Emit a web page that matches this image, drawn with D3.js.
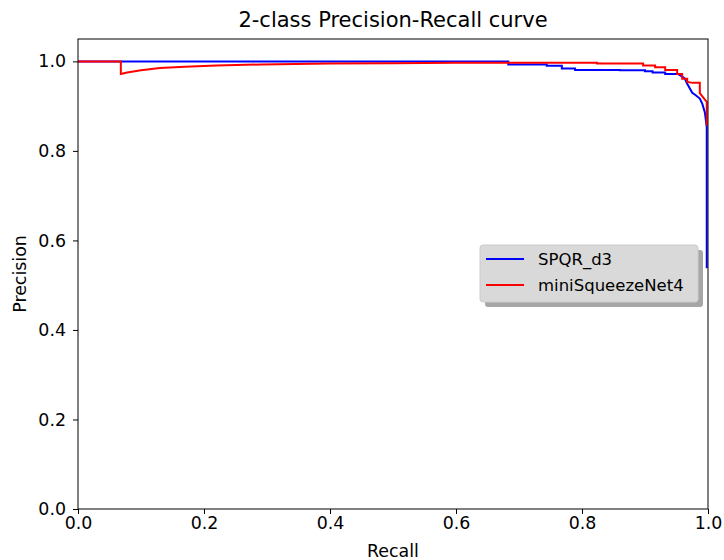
<!DOCTYPE html>
<html>
<head>
<meta charset="utf-8">
<script src="https://cdn.jsdelivr.net/npm/d3@7"></script>
<style>
  body { margin: 0; background: #fff; }
  text { font-family: "DejaVu Sans", sans-serif; }
</style>
</head>
<body>
<svg id="svg" width="724" height="560"></svg>
<script>
// 系列データ（recall, precision）
const spqrRecall = [0, 0.683, 0.683, 0.744, 0.744, 0.768, 0.768, 0.789, 0.789, 0.86, 0.86, 0.9, 0.9, 0.912, 0.912, 0.932, 0.932, 0.952, 0.958, 0.963, 0.967, 0.975, 0.98, 0.987, 0.991, 0.995, 0.998, 0.998];
const spqrPrecision = [1, 1, 0.993, 0.993, 0.99, 0.99, 0.984, 0.984, 0.981, 0.981, 0.98, 0.98, 0.978, 0.978, 0.975, 0.975, 0.972, 0.972, 0.967, 0.962, 0.95, 0.93, 0.925, 0.917, 0.905, 0.886, 0.853, 0.538];
const miniRecall = [0, 0.068, 0.068, 0.078, 0.1, 0.13, 0.17, 0.22, 0.29, 0.4, 0.5, 0.6, 0.824, 0.824, 0.897, 0.897, 0.916, 0.916, 0.932, 0.932, 0.951, 0.951, 0.959, 0.959, 0.967, 0.967, 0.976, 0.987, 0.987, 0.996, 0.998, 0.998];
const miniPrecision = [1, 1, 0.972, 0.975, 0.98, 0.985, 0.988, 0.991, 0.993, 0.995, 0.996, 0.997, 0.997, 0.995, 0.995, 0.991, 0.991, 0.987, 0.987, 0.981, 0.981, 0.972, 0.972, 0.961, 0.961, 0.954, 0.952, 0.952, 0.929, 0.913, 0.91, 0.857];
const seriesNames = ["SPQR_d3", "miniSqueezeNet4"];
const seriesColors = ["#0000ff", "#ff0000"];
const xTicks = [0, 0.2, 0.4, 0.6, 0.8, 1.0];
const yTicks = [0, 0.2, 0.4, 0.6, 0.8, 1.0];

const svg = d3.select("#svg");
const plotLeft = 78, plotRight = 708, plotTop = 39, plotBottom = 509;

const x = d3.scaleLinear().domain([0, 1]).range([plotLeft, plotRight]);
const y = d3.scaleLinear().domain([0, 1.05]).range([plotBottom, plotTop]);

//曲線
const line = d3.line().x(d => x(d[0])).y(d => y(d[1]));
const series = [
  d3.zip(spqrRecall, spqrPrecision),
  d3.zip(miniRecall, miniPrecision)
];
series.forEach((pts, i) => {
  svg.append("path")
    .attr("d", line(pts))
    .attr("fill", "none")
    .attr("stroke", seriesColors[i])
    .attr("stroke-width", 2)
    .attr("stroke-linejoin", "miter");
});

//軸
const xAxis = svg.append("g")
  .attr("transform", `translate(0,${plotBottom})`)
  .call(d3.axisBottom(x).tickValues(xTicks).tickFormat(d3.format(".1f")).tickSizeOuter(0).tickSize(5));
const yAxis = svg.append("g")
  .attr("transform", `translate(${plotLeft},0)`)
  .call(d3.axisLeft(y).tickValues(yTicks).tickFormat(d3.format(".1f")).tickSizeOuter(0).tickSize(5));
[xAxis, yAxis].forEach(a => {
  a.select(".domain").remove();
  a.selectAll("text").attr("font-size", 17.4).attr("fill", "#000").attr("font-family", "DejaVu Sans");
  a.selectAll("line").attr("stroke", "#000");
});
xAxis.selectAll("text").attr("y", 8);
yAxis.selectAll("text").attr("x", -12);

//枠
svg.append("rect")
  .attr("x", plotLeft).attr("y", plotTop)
  .attr("width", plotRight - plotLeft).attr("height", plotBottom - plotTop)
  .attr("fill", "none").attr("stroke", "#000").attr("stroke-width", 1);

//タイトル・ラベル
svg.append("text").attr("x", (plotLeft + plotRight) / 2).attr("y", 27)
  .attr("text-anchor", "middle").attr("font-size", 21).text("2-class Precision-Recall curve");
svg.append("text").attr("x", (plotLeft + plotRight) / 2).attr("y", 557)
  .attr("text-anchor", "middle").attr("font-size", 17.4).text("Recall");
svg.append("text").attr("transform", `translate(26,${(plotTop + plotBottom) / 2}) rotate(-90)`)
  .attr("text-anchor", "middle").attr("font-size", 17.4).text("Precision");

//凡例（影付き）
const lg = svg.append("g").attr("transform", "translate(480,245)");
lg.append("rect").attr("x", 5).attr("y", 5).attr("width", 218).attr("height", 57)
  .attr("rx", 3).attr("fill", "#a6a6a6");
lg.append("rect").attr("width", 218).attr("height", 57).attr("rx", 3)
  .attr("fill", "#d9d9d9").attr("stroke", "#cccccc").attr("stroke-width", 1);
seriesNames.forEach((name, i) => {
  const yy = 14 + i * 26;
  lg.append("line").attr("x1", 6).attr("x2", 44).attr("y1", yy).attr("y2", yy)
    .attr("stroke", seriesColors[i]).attr("stroke-width", 2);
  lg.append("text").attr("x", 58).attr("y", yy + 6).attr("font-size", 16.5).text(name);
});
</script>
</body>
</html>
